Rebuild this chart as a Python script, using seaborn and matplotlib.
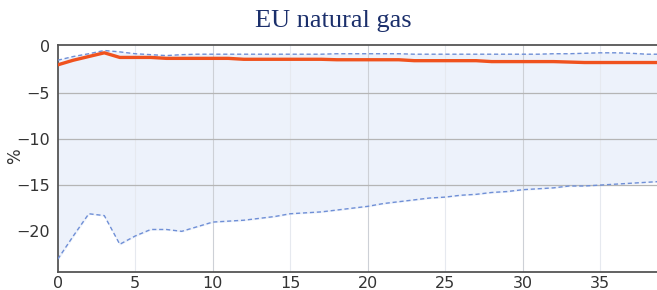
import numpy as np
import pandas as pd
import matplotlib
matplotlib.use("Agg")
import matplotlib.pyplot as plt
import seaborn as sns

# horizon (months) and responses in %
horizon = list(range(40))
median = [-2.0, -1.5, -1.1, -0.7, -1.2, -1.2, -1.2, -1.3, -1.3, -1.3,
          -1.3, -1.3, -1.4, -1.4, -1.4, -1.4, -1.4, -1.4, -1.45, -1.45,
          -1.45, -1.45, -1.45, -1.55, -1.55, -1.55, -1.55, -1.55, -1.65, -1.65,
          -1.65, -1.65, -1.65, -1.7, -1.75, -1.75, -1.75, -1.75, -1.75, -1.75]
upper = [-1.5, -1.1, -0.8, -0.45, -0.6, -0.8, -0.9, -1.0, -0.9, -0.85,
         -0.85, -0.85, -0.85, -0.85, -0.85, -0.85, -0.85, -0.85, -0.8, -0.8,
         -0.8, -0.8, -0.8, -0.85, -0.85, -0.85, -0.85, -0.85, -0.85, -0.85,
         -0.85, -0.85, -0.8, -0.8, -0.75, -0.7, -0.7, -0.75, -0.85, -0.85]
lower = [-23.0, -20.5, -18.1, -18.3, -21.4, -20.5, -19.8, -19.8, -20.0, -19.5,
         -19.0, -18.9, -18.8, -18.6, -18.4, -18.1, -18.0, -17.9, -17.7, -17.5,
         -17.3, -17.0, -16.8, -16.6, -16.4, -16.3, -16.1, -16.0, -15.8, -15.7,
         -15.5, -15.4, -15.3, -15.1, -15.1, -15.0, -14.9, -14.8, -14.7, -14.6]

df = pd.DataFrame({"h": horizon, "median": median, "upper": upper, "lower": lower})

sns.set_style("white")
fig = plt.figure(figsize=(6.57, 2.9), dpi=100)
ax = fig.add_axes([0.088, 0.062, 0.915, 0.783])

ax.fill_between(df["h"], df["lower"], df["upper"], color="#edf2fb", zorder=1)
sns.lineplot(data=df, x="h", y="upper", ax=ax, color="#6f8fd6", lw=1.0,
             linestyle=(0, (3, 2)), zorder=3)
sns.lineplot(data=df, x="h", y="lower", ax=ax, color="#6f8fd6", lw=1.0,
             linestyle=(0, (3, 2)), zorder=3)
sns.lineplot(data=df, x="h", y="median", ax=ax, color="#f0521e", lw=2.4, zorder=4)

ax.set_xlim(0, 38.8)
ax.set_ylim(-24.4, 0.15)
ax.set_xticks([0, 5, 10, 15, 20, 25, 30, 35])
ax.set_yticks([0, -5, -10, -15, -20])
ax.set_yticklabels(["0", "\u22125", "\u221210", "\u221215", "\u221220"])

for x in [10, 20, 30]:
    ax.axvline(x, color="#cdd0d6", lw=0.8, zorder=2)
for x in [5, 15, 25, 35]:
    ax.axvline(x, color="#e6e9ef", lw=0.8, zorder=2)
for y in [-5, -10, -15]:
    ax.axhline(y, color="#b5b5b5", lw=0.9, zorder=2)

ax.set_xlabel("")
ax.set_ylabel("%", fontsize=12, color="#333333")
ax.yaxis.set_label_coords(-0.056, 0.51)
ax.tick_params(axis="both", labelsize=11.5, colors="#333333", length=2)
ax.tick_params(axis="x", pad=1)

for side in ["top", "bottom", "left"]:
    ax.spines[side].set_color("#555555")
    ax.spines[side].set_linewidth(1.3)
ax.spines["right"].set_visible(False)

fig.text(0.508, 0.928, "EU natural gas", ha="center", va="center",
         fontsize=19, color="#1b2f6b", family="Liberation Serif")

fig.savefig("out.png", dpi=100)
